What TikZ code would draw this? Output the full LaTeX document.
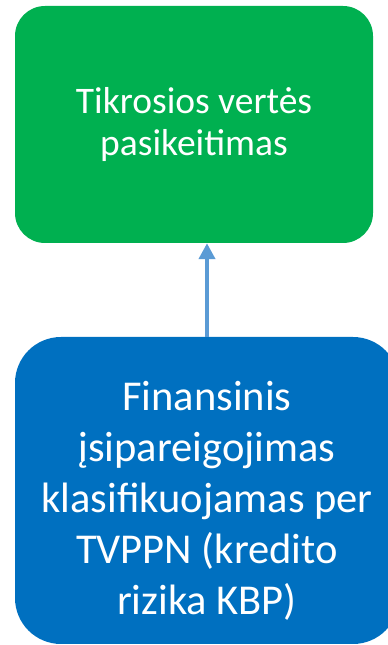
\documentclass[tikz,border=0pt]{standalone}
\usepackage{fontspec}
\setmainfont{Carlito}
\usetikzlibrary{arrows.meta}

\definecolor{boxgreen}{HTML}{00B050}
\definecolor{boxblue}{HTML}{0070C0}
\definecolor{arrowblue}{HTML}{5B9BD5}

\begin{document}
\begin{tikzpicture}[x=1pt,y=1pt,
  stepbox/.style={draw=none,text=white,align=center,inner sep=0pt}]
\clip (0,0) rectangle (388,645);
\useasboundingbox (0,0) rectangle (388,645);
% upper box
\node[stepbox,fill=boxgreen,rounded corners=30pt,minimum width=358pt,minimum height=237pt,
  font=\fontsize{37.5}{42}\selectfont] (change) at (194,520.5)
  {Tikrosios vertės\\pasikeitimas};
% lower box, runs past the page edge
\node[stepbox,fill=boxblue,rounded corners=46pt,minimum width=384pt,minimum height=307pt]
  (liability) at (207,154.5) {};
\node[stepbox,font=\fontsize{42.5}{51}\selectfont] (liabilitytext)
  at ([yshift=-10pt]liability.center)
  {Finansinis\\įsipareigojimas\\klasifikuojamas per\\TVPPN (kredito\\rizika KBP)};
\draw[arrowblue,line width=4pt,-{Triangle[length=16pt,width=16pt]}]
  (liability.north) -- (liability.north |- change.south);
\end{tikzpicture}
\end{document}
